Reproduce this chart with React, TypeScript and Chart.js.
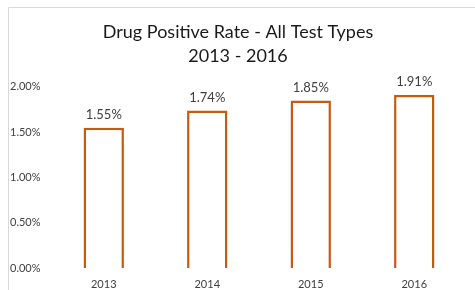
import React, { useEffect, useRef } from "react";
import { Chart, registerables } from "chart.js";

Chart.register(...registerables);

const categories = ["2013", "2014", "2015", "2016"];
const positiveRate = [1.55, 1.74, 1.85, 1.91];
const yTicks = [0, 0.5, 1.0, 1.5, 2.0];
const titleLines = ["Drug Positive Rate - All Test Types", "2013 - 2016"];

const FONT = "Lato, 'Open Sans', sans-serif";
const TEXT = "#404040";
const BAR = "#C55A11";

const framePlugin = {
  id: "frame",
  beforeDraw(chart: any) {
    const ctx = chart.ctx;
    ctx.save();
    ctx.fillStyle = "#ffffff";
    ctx.fillRect(0, 0, chart.width, chart.height);
    ctx.strokeStyle = "#d9d9d9";
    ctx.lineWidth = 1;
    ctx.beginPath();
    ctx.moveTo(8.5, chart.height);
    ctx.lineTo(8.5, 7.5);
    ctx.lineTo(chart.width, 7.5);
    ctx.stroke();
    ctx.restore();
  },
};

const labelPlugin = {
  id: "barLabels",
  afterDatasetsDraw(chart: any) {
    const ctx = chart.ctx;
    const meta = chart.getDatasetMeta(0);
    ctx.save();
    ctx.fillStyle = TEXT;
    ctx.font = `13px ${FONT}`;
    ctx.textAlign = "center";
    ctx.textBaseline = "middle";
    meta.data.forEach((el: any, i: number) => {
      const v = chart.data.datasets[0].data[i];
      ctx.fillText(v.toFixed(2) + "%", el.x, el.y - 13);
    });
    ctx.restore();
  },
};

export default function App() {
  const ref = useRef<HTMLCanvasElement>(null);
  useEffect(() => {
    document.body.style.margin = "0";
    const chart = new Chart(ref.current!, {
      type: "bar",
      data: {
        labels: categories,
        datasets: [
          {
            data: positiveRate,
            backgroundColor: "#ffffff",
            borderColor: BAR,
            borderWidth: 2.5,
            categoryPercentage: 1,
            barPercentage: 0.39,
          },
        ],
      },
      options: {
        animation: false,
        responsive: false,
        devicePixelRatio: 1,
        layout: { padding: { left: 10, right: 9, top: 20, bottom: 0 } },
        plugins: {
          legend: { display: false },
          tooltip: { enabled: false },
          title: {
            display: true,
            text: titleLines,
            color: "#1a1a1a",
            font: { family: FONT, size: 18, weight: "normal", lineHeight: 1.33 },
            padding: { top: 0, bottom: 19 },
          },
        },
        scales: {
          x: {
            grid: { display: false, drawTicks: false },
            border: { display: false },
            ticks: { color: TEXT, font: { family: FONT, size: 11 }, padding: 10 },
            afterFit(scale: any) {
              scale.height = 22;
            },
          },
          y: {
            min: 0,
            max: 2,
            grid: { display: false, drawTicks: false },
            border: { display: false },
            afterBuildTicks(scale: any) {
              scale.ticks = yTicks.map((v) => ({ value: v }));
            },
            ticks: {
              color: TEXT,
              font: { family: FONT, size: 11 },
              crossAlign: "far",
              callback: (v: any) => Number(v).toFixed(2) + "%",
            },
            afterFit(scale: any) {
              scale.width = 42;
            },
          },
        },
      },
      plugins: [framePlugin, labelPlugin],
    });
    return () => chart.destroy();
  }, []);
  return <canvas ref={ref} width={475} height={290} style={{ display: "block" }} />;
}
